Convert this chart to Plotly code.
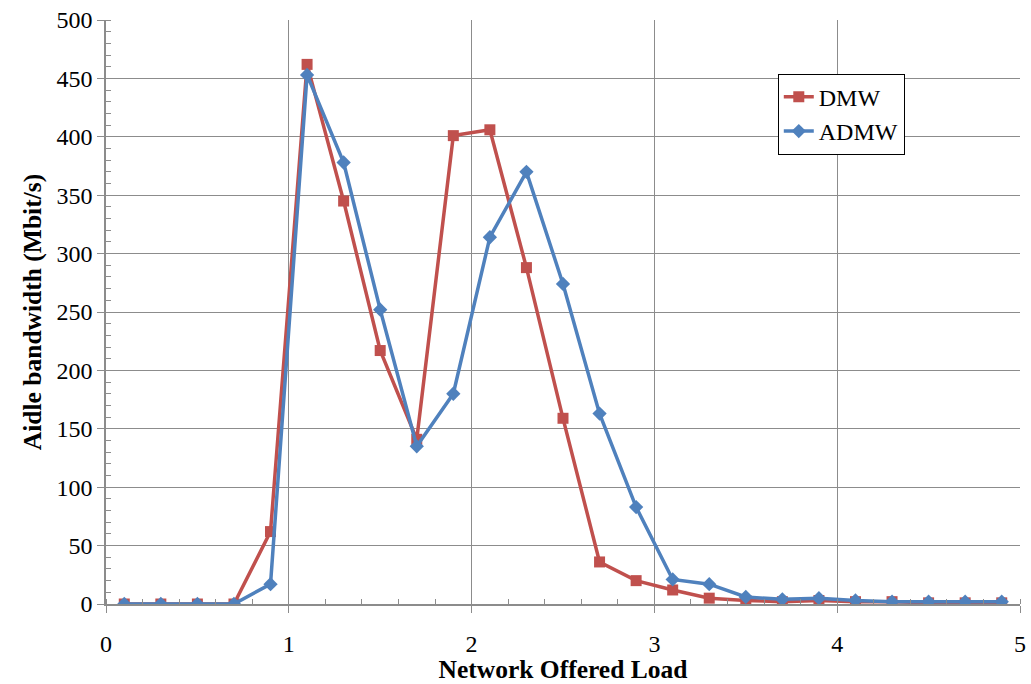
import plotly.graph_objects as go

x_load = [0.1, 0.3, 0.5, 0.7, 0.9, 1.1, 1.3, 1.5, 1.7, 1.9, 2.1, 2.3, 2.5,
          2.7, 2.9, 3.1, 3.3, 3.5, 3.7, 3.9, 4.1, 4.3, 4.5, 4.7, 4.9]
dmw = [0, 0, 0, 0, 62, 462, 345, 217, 141, 401, 406, 288, 159,
       36, 20, 12, 5, 3, 2, 3, 2, 2, 1, 1, 1]
admw = [0, 0, 0, 0, 17, 453, 378, 252, 135, 180, 314, 370, 274,
        163, 83, 21, 17, 6, 4, 5, 3, 2, 2, 2, 2]

RED = "#C0504D"
BLUE = "#4F81BD"
FONT = "Liberation Serif"

fig = go.Figure()
fig.add_trace(go.Scatter(x=x_load, y=dmw, name="DMW", mode="lines+markers",
                         line=dict(color=RED, width=3.5),
                         marker=dict(symbol="square", size=11, color=RED)))
fig.add_trace(go.Scatter(x=x_load, y=admw, name="ADMW", mode="lines+markers",
                         line=dict(color=BLUE, width=3.5),
                         marker=dict(symbol="diamond", size=11, color=BLUE)))

axis_common = dict(
    showgrid=True, gridcolor="#8C8C8C", gridwidth=1,
    showline=True, linecolor="#8C8C8C", linewidth=1.5,
    ticks="outside", ticklen=7, tickcolor="#8C8C8C",
    tickfont=dict(family=FONT, size=24, color="black"),
    zeroline=False, automargin=False,
)

fig.update_layout(
    width=1031, height=684,
    margin=dict(l=106, r=11, t=20, b=80),
    paper_bgcolor="white", plot_bgcolor="white",
    font=dict(family=FONT, color="black"),
    xaxis=dict(range=[0, 5], dtick=1, tick0=0, ticklabelstandoff=10,
               title=dict(text="<b>Network Offered Load</b>",
                          font=dict(family=FONT, size=25.5), standoff=5),
               minor=dict(dtick=0.2, ticks="inside", ticklen=5,
                          tickcolor="#8C8C8C", showgrid=False),
               **axis_common),
    yaxis=dict(range=[0, 500], dtick=50, tick0=0,
               title=dict(text="<b>Aidle bandwidth (Mbit/s)</b>",
                          font=dict(family=FONT, size=25.5), standoff=8),
               minor=dict(dtick=10, ticks="inside", ticklen=5,
                          tickcolor="#8C8C8C", showgrid=False),
               **axis_common),
    legend=dict(x=0.735, y=0.908, xanchor="left", yanchor="top",
                bgcolor="white", bordercolor="black", borderwidth=1,
                font=dict(family=FONT, size=24, color="black"),
                itemwidth=30, tracegroupgap=0),
    showlegend=True,
)

fig.write_html("out.html",
               config={"displayModeBar": False},
               post_script="document.body.style.margin='0';"
                           "document.body.style.overflow='hidden';")
